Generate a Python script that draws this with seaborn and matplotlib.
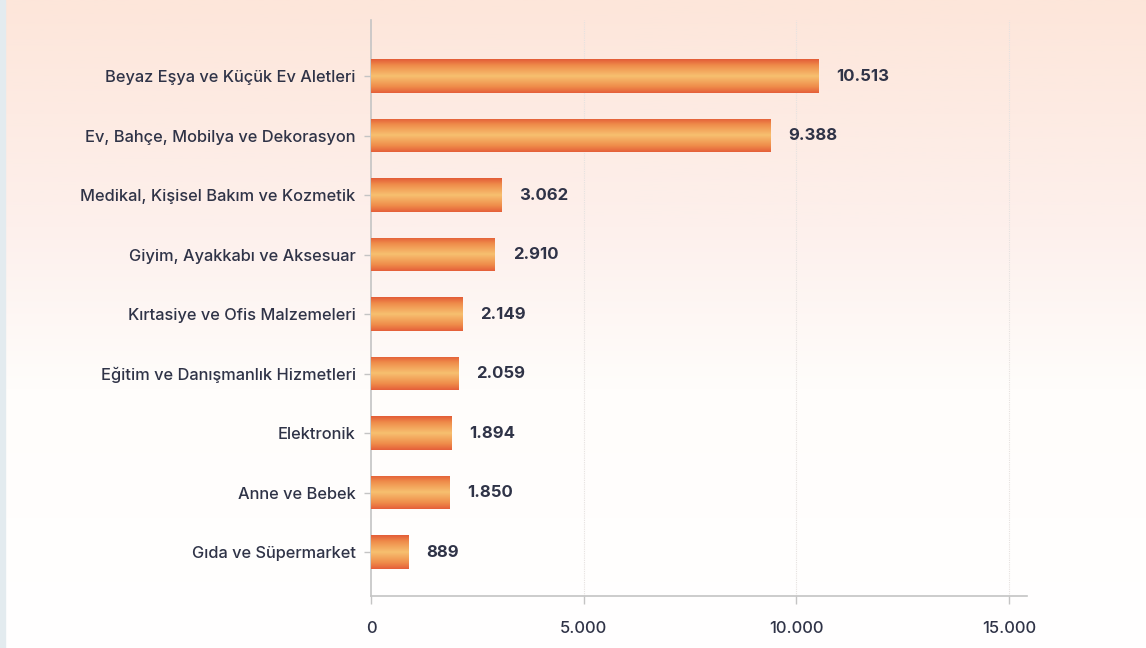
import numpy as np
import pandas as pd
import matplotlib
matplotlib.use("Agg")
import matplotlib.pyplot as plt
from matplotlib.colors import LinearSegmentedColormap
import seaborn as sns

categories = [
    "Beyaz Eşya ve Küçük Ev Aletleri",
    "Ev, Bahçe, Mobilya ve Dekorasyon",
    "Medikal, Kişisel Bakım ve Kozmetik",
    "Giyim, Ayakkabı ve Aksesuar",
    "Kırtasiye ve Ofis Malzemeleri",
    "Eğitim ve Danışmanlık Hizmetleri",
    "Elektronik",
    "Anne ve Bebek",
    "Gıda ve Süpermarket",
]
values = [10513, 9388, 3062, 2910, 2149, 2059, 1894, 1850, 889]
value_labels = ["10.513", "9.388", "3.062", "2.910", "2.149", "2.059", "1.894", "1.850", "889"]
xticks = [0, 5000, 10000, 15000]
xtick_labels = ["0", "5.000", "10.000", "15.000"]

df = pd.DataFrame({"category": categories, "value": values})

sns.set_theme(style="white")
plt.rcParams["font.family"] = ["Inter", "DejaVu Sans"]

text_color = "#2f3347"
fig = plt.figure(figsize=(11.46, 6.48), dpi=100)

# background gradient
bg = fig.add_axes([0, 0, 1, 1], zorder=-10)
grad = np.linspace(0, 1, 256).reshape(-1, 1)
bg_cmap = LinearSegmentedColormap.from_list(
    "bg", [(0, "#fde6da"), (0.35, "#fdf0ec"), (0.6, "#fffdfb"), (1, "#ffffff")]
)
bg.imshow(grad, aspect="auto", cmap=bg_cmap, extent=[0, 1, 0, 1], origin="upper")
bg.axvspan(0, 0.0045, color="#e3ebef")
bg.set_xlim(0, 1)
bg.set_ylim(0, 1)
bg.axis("off")

ax = fig.add_axes([0.3237, 0.0802, 0.5725, 0.8888])
ax.patch.set_alpha(0)
sns.barplot(data=df, y="category", x="value", orient="h", width=0.56,
            color="#ee8040", ax=ax, zorder=3)

bar_cmap = LinearSegmentedColormap.from_list(
    "bar", [(0, "#e5603a"), (0.18, "#ef8c4a"), (0.5, "#f7c070"), (0.82, "#ef8c4a"), (1, "#e35d38")]
)
vgrad = np.linspace(0, 1, 64).reshape(-1, 1)
for p in ax.patches:
    x0, y0 = p.get_x(), p.get_y()
    w, h = p.get_width(), p.get_height()
    im = ax.imshow(vgrad, aspect="auto", cmap=bar_cmap,
                   extent=[x0, x0 + w, y0 + h, y0], origin="lower", zorder=4)
    im.set_clip_path(p)
    p.set_edgecolor("none")

ax.set_xlim(0, 15420)
ax.set_ylim(8.74, -0.94)

for i, (v, lab) in enumerate(zip(values, value_labels)):
    ax.text(v + 420, i, lab, va="center", ha="left", fontsize=12,
            fontweight="bold", color=text_color, zorder=5)

ax.set_xticks(xticks)
ax.set_xticklabels(xtick_labels, fontsize=12, color=text_color, fontweight="medium")
ax.set_yticks(range(len(categories)))
ax.set_yticklabels(categories, fontsize=11.8, color=text_color, fontweight="medium")
ax.set_xlabel("")
ax.set_ylabel("")

for x in xticks[1:]:
    ax.axvline(x, color="#e6e2e0", lw=0.8, ls=(0, (1, 1)), zorder=1)

for s in ["top", "right"]:
    ax.spines[s].set_visible(False)
for s in ["left", "bottom"]:
    ax.spines[s].set_color("#c4c4c4")
    ax.spines[s].set_linewidth(1.2)

ax.tick_params(axis="y", which="major", length=5, width=1, color="#c4c4c4", pad=6, left=True)
ax.tick_params(axis="x", which="major", length=6, width=1, color="#c4c4c4", pad=12, bottom=True)

fig.savefig("out.png", dpi=100)
